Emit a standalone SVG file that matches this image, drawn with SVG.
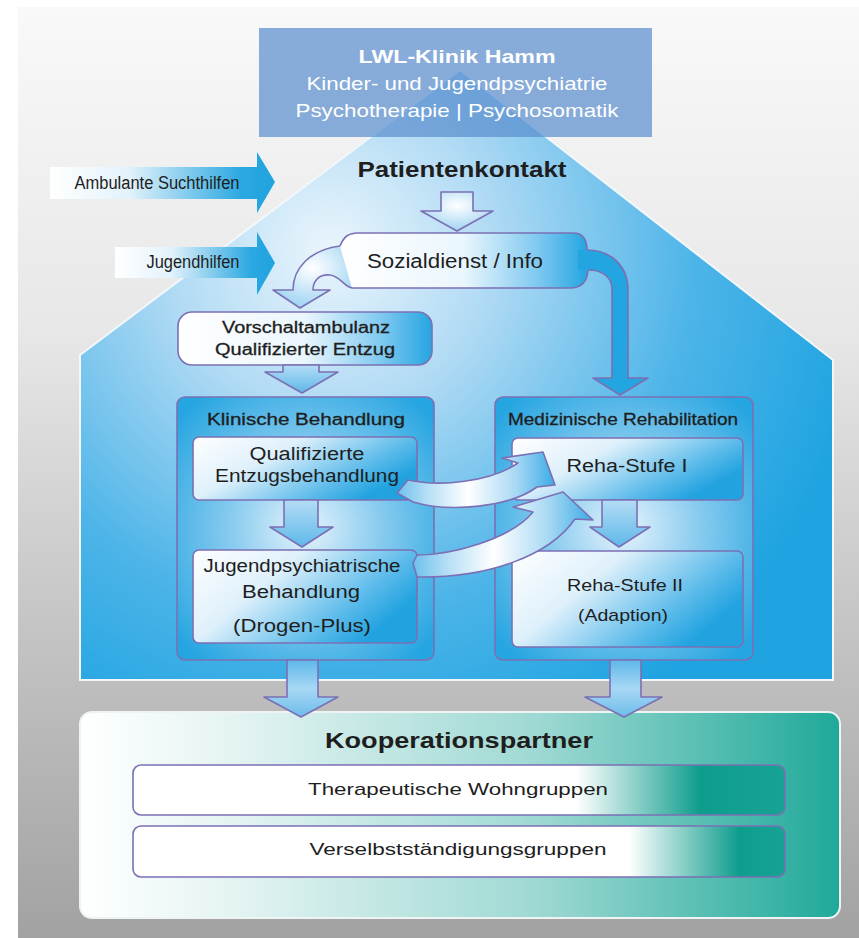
<svg xmlns="http://www.w3.org/2000/svg" width="859" height="938" viewBox="0 0 859 938">
<style>
text{font-family:"Liberation Sans",Arial,sans-serif;fill:#1e1e1e;text-anchor:middle}
.w{fill:#ffffff}
.b{font-weight:bold}
.m{stroke:#1e1e1e;stroke-width:0.3}
.ol{stroke:#7b70b4;stroke-width:1.6;stroke-linejoin:round}
.nf{fill:none}
</style>
<defs>
<linearGradient id="bg" x1="0" y1="0" x2="0" y2="1">
<stop offset="0" stop-color="#f9f9f9"/><stop offset="0.35" stop-color="#e7e7e7"/><stop offset="0.65" stop-color="#c6c6c6"/><stop offset="1" stop-color="#a2a2a2"/>
</linearGradient>
<radialGradient id="house" gradientUnits="userSpaceOnUse" cx="330" cy="250" r="540">
<stop offset="0" stop-color="#eaf5fc"/><stop offset="0.3" stop-color="#b0daf4"/><stop offset="0.68" stop-color="#4cb4e8"/><stop offset="1" stop-color="#1fa4e1"/>
</radialGradient>
<linearGradient id="inArrow" x1="0" y1="0" x2="1" y2="0">
<stop offset="0" stop-color="#ffffff"/><stop offset="0.35" stop-color="#e3f2fb"/><stop offset="0.85" stop-color="#2ba8e1"/><stop offset="1" stop-color="#1fa3df"/>
</linearGradient>
<linearGradient id="wc" x1="0" y1="0" x2="1" y2="0">
<stop offset="0" stop-color="#ffffff"/><stop offset="0.5" stop-color="#eaf6fd"/><stop offset="0.8" stop-color="#7fc9f0"/><stop offset="1" stop-color="#25a5e1"/>
</linearGradient>
<linearGradient id="inner" x1="0" y1="0" x2="1" y2="0.5">
<stop offset="0" stop-color="#ffffff"/><stop offset="0.4" stop-color="#def0fb"/><stop offset="0.8" stop-color="#5cbbea"/><stop offset="1" stop-color="#22a3e0"/>
</linearGradient>
<radialGradient id="grp" cx="0.5" cy="0.5" r="0.65">
<stop offset="0" stop-color="#e6f3fc"/><stop offset="0.45" stop-color="#88cbef"/><stop offset="1" stop-color="#25a5e1"/>
</radialGradient>
<radialGradient id="soft" cx="0.5" cy="0.35" r="0.6">
<stop offset="0" stop-color="#ffffff"/><stop offset="1" stop-color="#a6d7f4"/>
</radialGradient>
<linearGradient id="down" x1="0" y1="0" x2="0" y2="1">
<stop offset="0" stop-color="#b4dcf5"/><stop offset="1" stop-color="#5db8ea"/>
</linearGradient>
<linearGradient id="down2" x1="0" y1="0" x2="0" y2="1">
<stop offset="0" stop-color="#5db8ea"/><stop offset="0.5" stop-color="#a8d7f4"/><stop offset="1" stop-color="#6cbdeb"/>
</linearGradient>
<linearGradient id="curve" x1="0" y1="0" x2="1" y2="0">
<stop offset="0" stop-color="#6dc0ec"/><stop offset="0.2" stop-color="#b9e0f6"/><stop offset="0.45" stop-color="#ffffff"/><stop offset="0.75" stop-color="#a9d9f4"/><stop offset="1" stop-color="#3aabe6"/>
</linearGradient>
<linearGradient id="koop" x1="0" y1="0" x2="1" y2="0">
<stop offset="0" stop-color="#ffffff"/><stop offset="0.2" stop-color="#e4f4f3"/><stop offset="0.6" stop-color="#9fd9d3"/><stop offset="1" stop-color="#1fa999"/>
</linearGradient>
<linearGradient id="k1" x1="0" y1="0" x2="1" y2="0">
<stop offset="0" stop-color="#ffffff"/><stop offset="0.68" stop-color="#ffffff"/><stop offset="0.87" stop-color="#0e9d8d"/><stop offset="1" stop-color="#17a393"/>
</linearGradient>
<linearGradient id="k2" x1="0" y1="0" x2="1" y2="0">
<stop offset="0" stop-color="#ffffff"/><stop offset="0.76" stop-color="#ffffff"/><stop offset="0.93" stop-color="#0e9d8d"/><stop offset="1" stop-color="#17a393"/>
</linearGradient>
</defs>

<rect x="18" y="7" width="841" height="931" fill="url(#bg)"/>
<polygon id="house" points="80,355 460,70 833,360 833,680 80,680" fill="url(#house)" stroke="#f2f7fb" stroke-width="2"/>

<g id="header">
<rect x="259" y="28" width="393" height="109" fill="#5b8fcf" fill-opacity="0.72"/>
<text class="w b" x="457" y="63" font-size="19" textLength="197" lengthAdjust="spacingAndGlyphs">LWL-Klinik Hamm</text>
<text class="w" x="457" y="90" font-size="19" textLength="301" lengthAdjust="spacingAndGlyphs">Kinder- und Jugendpsychiatrie</text>
<text class="w" x="457" y="117" font-size="19" textLength="323" lengthAdjust="spacingAndGlyphs">Psychotherapie | Psychosomatik</text>
</g>

<g id="ambulante">
<polygon points="50,167 257,167 257,152 275,182 257,213 257,199 50,199" fill="url(#inArrow)"/>
<text x="157" y="189" font-size="18" textLength="165" lengthAdjust="spacingAndGlyphs">Ambulante Suchthilfen</text>
</g>
<g id="jugendhilfen">
<polygon points="115,247 257,247 257,232 275,263 257,295 257,278 115,278" fill="url(#inArrow)"/>
<text x="193" y="268" font-size="18" textLength="93" lengthAdjust="spacingAndGlyphs">Jugendhilfen</text>
</g>

<g id="patientenkontakt">
<text class="b" x="462" y="177" font-size="22" textLength="209" lengthAdjust="spacingAndGlyphs">Patientenkontakt</text>
</g>

<g id="sozialdienst">
<rect x="340" y="233" width="247" height="55" rx="14" fill="url(#wc)"/>
<path class="ol nf" d="M340,246 C344,236 349,233 358,233 L573,233 Q587,233 587,250 M588,270 Q587,288 570,288 L352,288"/>
<text x="455" y="268" font-size="20" textLength="176" lengthAdjust="spacingAndGlyphs">Sozialdienst / Info</text>
</g>

<g id="vorschaltambulanz">
<rect class="ol" x="178" y="312" width="254" height="53" rx="14" fill="url(#wc)"/>
<text class="m" x="306" y="333" font-size="16" textLength="168" lengthAdjust="spacingAndGlyphs">Vorschaltambulanz</text>
<text class="m" x="305" y="355" font-size="16" textLength="180" lengthAdjust="spacingAndGlyphs">Qualifizierter Entzug</text>
</g>

<g id="klinische">
<rect class="ol" x="177" y="397" width="257" height="263" rx="8" fill="url(#grp)"/>
<text class="m" x="306" y="425" font-size="16" textLength="198" lengthAdjust="spacingAndGlyphs">Klinische Behandlung</text>
</g>
<g id="qualifizierte">
<rect class="ol" x="193" y="437" width="224" height="63" rx="6" fill="url(#inner)"/>
<text x="307" y="460" font-size="18" textLength="115" lengthAdjust="spacingAndGlyphs">Qualifizierte</text>
<text x="307" y="482" font-size="18" textLength="184" lengthAdjust="spacingAndGlyphs">Entzugsbehandlung</text>
</g>
<g id="jugendpsychiatrische">
<rect class="ol" x="193" y="550" width="224" height="93" rx="6" fill="url(#inner)"/>
<text x="302" y="572" font-size="18" textLength="197" lengthAdjust="spacingAndGlyphs">Jugendpsychiatrische</text>
<text x="301" y="598" font-size="18" textLength="118" lengthAdjust="spacingAndGlyphs">Behandlung</text>
<text x="302" y="632" font-size="18" textLength="138" lengthAdjust="spacingAndGlyphs">(Drogen-Plus)</text>
</g>

<g id="medizinische">
<rect class="ol" x="495" y="397" width="258" height="263" rx="8" fill="url(#grp)"/>
<text class="m" x="623" y="425" font-size="16" textLength="230" lengthAdjust="spacingAndGlyphs">Medizinische Rehabilitation</text>
</g>
<g id="reha1">
<rect class="ol" x="512" y="438" width="231" height="62" rx="6" fill="url(#inner)"/>
<text x="627" y="472" font-size="18" textLength="121" lengthAdjust="spacingAndGlyphs">Reha-Stufe I</text>
</g>
<g id="reha2">
<rect class="ol" x="512" y="551" width="231" height="96" rx="6" fill="url(#inner)"/>
<text x="625" y="591" font-size="17" textLength="116" lengthAdjust="spacingAndGlyphs">Reha-Stufe II</text>
<text x="623" y="621" font-size="17" textLength="90" lengthAdjust="spacingAndGlyphs">(Adaption)</text>
</g>

<g id="kooperationspartner">
<rect x="80" y="712" width="760" height="206" rx="12" fill="url(#koop)" stroke="#eef4f4" stroke-width="2"/>
<text class="b" x="459" y="748" font-size="22" textLength="268" lengthAdjust="spacingAndGlyphs">Kooperationspartner</text>
</g>
<g id="wohngruppen">
<rect class="ol" x="133" y="765" width="652" height="50" rx="8" fill="url(#k1)"/>
<text x="458" y="795" font-size="17" textLength="300" lengthAdjust="spacingAndGlyphs">Therapeutische Wohngruppen</text>
</g>
<g id="verselbststaendigung">
<rect class="ol" x="133" y="826" width="652" height="51" rx="8" fill="url(#k2)"/>
<text x="458" y="855" font-size="17" textLength="297" lengthAdjust="spacingAndGlyphs">Verselbstständigungsgruppen</text>
</g>

<g id="connectors">
<polygon class="ol" points="441,192 473,192 473,211 493,211 457,231 421,211 441,211" fill="url(#soft)"/>
<path d="M340,246 C310,250 293,268 293,290 L273,290 L300,308 L330,290 L313,290 C313,280 320,274 330,275 C340,276 343,286 352,288 Z" fill="url(#soft)"/>
<path class="ol nf" d="M340,246 C310,250 293,268 293,290 L273,290 L300,308 L330,290 L313,290 C313,280 320,274 330,275 C340,276 343,286 352,288"/>
<path d="M578,250 L587,250 C610,250 628,265 628,290 L628,378 L648,378 L620,395 L593,378 L612,378 L612,290 C612,278 604,270 588,270 L578,270 Z" fill="#22a5e1"/>
<path class="ol nf" d="M587,250 C610,250 628,265 628,290 L628,378 L648,378 L620,395 L593,378 L612,378 L612,290 C612,278 604,270 588,270"/>
<polygon class="ol" points="283,365 319,365 319,372 338,372 302,393 265,372 283,372" fill="url(#down)"/>
<polygon class="ol" points="284,500 318,500 318,527 333,527 302,547 270,527 284,527" fill="url(#down)"/>
<polygon class="ol" points="602,500 637,500 637,527 650,527 619,547 590,527 602,527" fill="url(#down)"/>
<path class="ol" d="M397,493 L408,480 C440,487 490,482 518,463 L502,458 L543,452 L555,485 L537,487 C510,507 450,513 413,502 Z" fill="url(#curve)"/>
<path class="ol" d="M413,563 L417,555 C450,555 510,540 533,512 L513,507 L563,492 L593,520 L575,519 C550,555 490,578 417,577 Z" fill="url(#curve)"/>
<polygon class="ol" points="287,660 318,660 318,697 338,697 301,717 264,697 287,697" fill="url(#down2)"/>
<polygon class="ol" points="610,660 641,660 641,697 662,697 624,717 585,697 610,697" fill="url(#down2)"/>
</g>
</svg>
